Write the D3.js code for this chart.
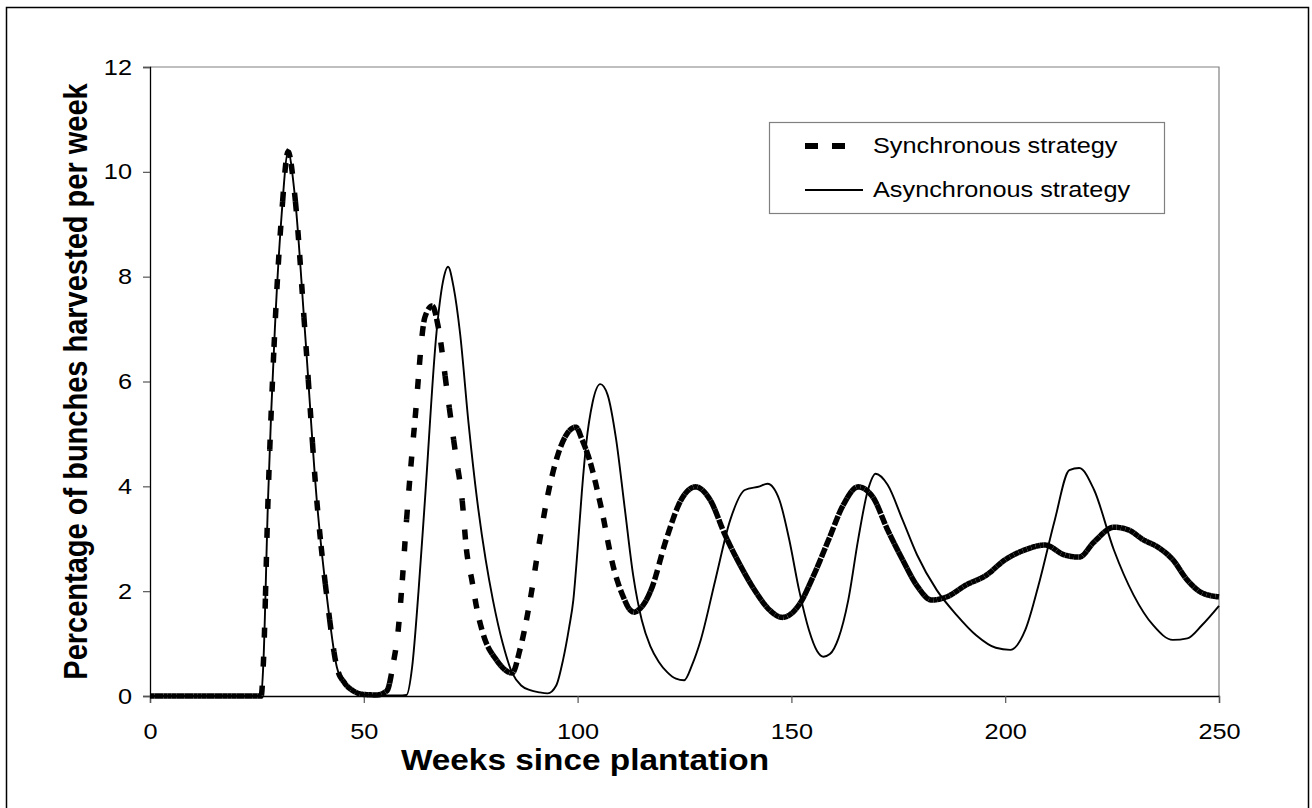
<!DOCTYPE html>
<html>
<head>
<meta charset="utf-8">
<script src="https://cdn.jsdelivr.net/npm/d3@7/dist/d3.min.js"></script>
<style>
html,body{margin:0;padding:0;background:#fff;}
svg{display:block;}
text{font-family:"Liberation Sans",Arial,sans-serif;fill:#000;}
</style>
</head>
<body>
<svg id="chart" width="1312" height="808"></svg>
<script>
// ---- data ----
const xTicks = [0, 50, 100, 150, 200, 250];
const yTicks = [0, 2, 4, 6, 8, 10, 12];
const seriesNames = ["Synchronous strategy", "Asynchronous strategy"];
const xTitle = "Weeks since plantation";
const yTitle = "Percentage of bunches harvested per week";

const syncWeeks = [0, 10, 20, 26, 26.5, 27.6, 29.2, 30.8, 32.3, 33.8, 36.2, 39, 41.5, 43.7, 45.5, 47.5, 50, 53, 55.4, 56.9, 58, 59, 60, 62, 64.3, 66, 67.5, 69.5, 71.5, 73, 74, 75.3, 76.5, 78, 81, 84.7, 86.5, 88.9, 90.8, 92.8, 95, 97.5, 99.6, 101, 102.8, 105.5, 108.4, 110.9, 112, 113.2, 114.5, 116, 117.3, 120.7, 124.2, 127.6, 131, 134.5, 138, 141.4, 144.9, 147.9, 151.8, 155.2, 158.7, 162.1, 165.6, 169, 172.5, 176, 179.4, 182.8, 186.3, 190.9, 195.5, 200, 204.7, 209.3, 213.9, 217.3, 220.8, 225.4, 228.8, 232.3, 235.7, 239.2, 242.6, 246, 250];
const syncValues = [0, 0, 0, 0, 0.6, 3.74, 7.0, 9.2, 10.38, 9.6, 7.0, 3.74, 1.8, 0.55, 0.25, 0.1, 0.03, 0.02, 0.1, 0.63, 1.22, 2.2, 3.36, 5.3, 7.23, 7.44, 7.0, 5.8, 4.6, 3.74, 2.8, 2.2, 1.64, 1.16, 0.69, 0.44, 0.88, 1.83, 2.8, 3.74, 4.5, 5.0, 5.13, 4.9, 4.5, 3.6, 2.45, 1.85, 1.67, 1.6, 1.66, 1.82, 2.05, 2.98, 3.74, 3.99, 3.74, 3.07, 2.5, 2.02, 1.64, 1.5, 1.74, 2.3, 2.98, 3.64, 3.99, 3.8, 3.17, 2.6, 2.1, 1.83, 1.89, 2.12, 2.3, 2.6, 2.79, 2.88, 2.69, 2.65, 2.94, 3.22, 3.17, 2.98, 2.84, 2.6, 2.21, 1.97, 1.89];

const asyncWeeks = [0, 10, 20, 26, 26.5, 27.6, 29.2, 30.8, 32.3, 33.8, 36.2, 39, 41.5, 43.7, 45.5, 47.5, 50, 54, 58, 60, 61.3, 62.8, 64.3, 67, 68.5, 69.7, 71, 72.5, 74.5, 76.5, 78.5, 80.2, 82.5, 84.7, 86.8, 88.9, 91, 93, 95, 96.6, 98, 99, 100, 101, 102, 103.5, 105.3, 107, 109, 111, 113, 115, 117, 119, 121, 123, 124.9, 126.8, 128.8, 132.2, 135.7, 139.1, 142.6, 144.4, 147.2, 149.5, 151.8, 154.1, 156, 157.5, 159, 161, 163.3, 165.6, 167.9, 169.7, 172.5, 176, 179.4, 184, 188.6, 193.2, 197.8, 201.2, 204.7, 208.1, 211.6, 215, 217.3, 220.8, 225.4, 230, 234.6, 239.2, 242.6, 246, 250];
const asyncValues = [0, 0, 0, 0, 0.6, 3.74, 7.0, 9.2, 10.38, 9.6, 7.0, 3.74, 1.8, 0.55, 0.25, 0.1, 0.03, 0.01, 0.01, 0.02, 0.55, 2.0, 3.74, 6.93, 7.9, 8.19, 7.8, 6.93, 5.2, 3.74, 2.6, 1.83, 1.0, 0.44, 0.2, 0.11, 0.07, 0.05, 0.2, 0.69, 1.3, 1.83, 2.8, 3.9, 4.8, 5.6, 5.95, 5.75, 4.9, 3.6, 2.3, 1.45, 0.95, 0.65, 0.45, 0.33, 0.3, 0.6, 1.07, 2.21, 3.36, 3.93, 4.0, 4.05, 3.74, 2.98, 2.02, 1.26, 0.86, 0.75, 0.8, 1.1, 1.83, 2.98, 3.93, 4.24, 4.03, 3.36, 2.69, 2.02, 1.55, 1.16, 0.92, 0.88, 1.26, 2.21, 3.36, 4.31, 4.35, 3.93, 2.79, 1.93, 1.35, 1.07, 1.1, 1.35, 1.72];

// ---- layout ----
const TEXT_SX = 1.15;   // horizontal stretch of the original artwork's lettering
const svg = d3.select("#chart");
const plot = {left: 150, top: 67, right: 1219, bottom: 696};

const x = d3.scaleLinear().domain([0, 250]).range([plot.left, plot.right]);
const y = d3.scaleLinear().domain([0, 12]).range([plot.bottom, plot.top]);

// outer border
svg.append("rect")
  .attr("x", 6.5).attr("y", 7.5).attr("width", 1302).attr("height", 810)
  .attr("fill", "#fff").attr("stroke", "#000").attr("stroke-width", 1.5);

// plot frame (top/right)
svg.append("path")
  .attr("d", `M${plot.left},${plot.top}H${plot.right}V${plot.bottom}`)
  .attr("fill", "none").attr("stroke", "#808080").attr("stroke-width", 1.2);

// axes
const xAxis = d3.axisBottom(x).tickValues(xTicks).tickSize(7).tickPadding(20).tickFormat(d3.format("d"));
const yAxis = d3.axisLeft(y).tickValues(yTicks).tickSize(7).tickPadding(11).tickFormat(d3.format("d"));

const gx = svg.append("g").attr("transform", `translate(0,${plot.bottom})`).call(xAxis);
const gy = svg.append("g").attr("transform", `translate(${plot.left},0)`).call(yAxis);
[gx, gy].forEach(g => {
  g.select(".domain").attr("stroke", "#000").attr("stroke-width", 1.3);
  g.selectAll(".tick line").attr("stroke", "#555").attr("stroke-width", 1.2);
  g.selectAll(".tick text").attr("font-size", 22)
    .attr("font-family", "Liberation Sans, Arial, sans-serif").attr("fill", "#000");
});
gx.selectAll(".tick text").attr("transform", `scale(${TEXT_SX},1)`);
gy.selectAll(".tick text").each(function() {
  const t = d3.select(this);
  const x0 = +t.attr("x");
  t.attr("x", 0).attr("transform", `translate(${x0},0) scale(${TEXT_SX},1)`);
});

// lines
const line = d3.line().x(d => x(d[0])).y(d => y(d[1])).curve(d3.curveMonotoneX);
const syncData = syncWeeks.map((w, i) => [w, syncValues[i]]);
const asyncData = asyncWeeks.map((w, i) => [w, asyncValues[i]]);

svg.append("path").datum(asyncData).attr("d", line)
  .attr("fill", "none").attr("stroke", "#000").attr("stroke-width", 1.9);

// dashed series: the dash pattern restarts every week, as in the original spreadsheet drawing
const guide = svg.append("path").datum(syncData).attr("d", line)
  .attr("fill", "none").attr("stroke", "none");
const node = guide.node();
const total = node.getTotalLength();
const samples = [];
for (let l = 0; l < total; l += 0.75) {
  const p = node.getPointAtLength(l);
  samples.push([p.x, p.y]);
}
const pEnd = node.getPointAtLength(total);
samples.push([pEnd.x, pEnd.y]);

const dashG = svg.append("g");
let seg = [samples[0]];
let wk = 1;
for (let i = 1; i < samples.length; i++) {
  const s = samples[i];
  seg.push(s);
  if (s[0] >= x(wk) || i === samples.length - 1) {
    dashG.append("path").attr("d", d3.line()(seg))
      .attr("fill", "none").attr("stroke", "#000").attr("stroke-width", 5.5)
      .attr("stroke-dasharray", "10,19");
    seg = [s];
    while (x(wk) <= s[0]) wk++;
  }
}
guide.remove();

// axis titles
svg.append("text")
  .attr("transform", `translate(585,770) scale(${TEXT_SX},1)`)
  .attr("text-anchor", "middle").attr("font-size", 29).attr("font-weight", "bold")
  .text(xTitle);
svg.append("text")
  .attr("transform", `translate(87,${(plot.top + plot.bottom) / 2}) scale(${TEXT_SX},1) rotate(-90)`)
  .attr("text-anchor", "middle").attr("font-size", 29).attr("font-weight", "bold")
  .text(yTitle);

// legend
const lg = svg.append("g");
lg.append("rect").attr("x", 769.5).attr("y", 122.5).attr("width", 395).attr("height", 91)
  .attr("fill", "#fff").attr("stroke", "#808080").attr("stroke-width", 1.2);
lg.append("line").attr("x1", 805).attr("x2", 847).attr("y1", 146).attr("y2", 146)
  .attr("stroke", "#000").attr("stroke-width", 6).attr("stroke-dasharray", "13,14");
lg.append("line").attr("x1", 805).attr("x2", 863).attr("y1", 190).attr("y2", 190)
  .attr("stroke", "#000").attr("stroke-width", 1.9);
lg.append("text").attr("transform", `translate(873,153) scale(${TEXT_SX},1)`)
  .attr("font-size", 22).text(seriesNames[0]);
lg.append("text").attr("transform", `translate(873,197) scale(${TEXT_SX},1)`)
  .attr("font-size", 22).text(seriesNames[1]);
</script>
</body>
</html>
